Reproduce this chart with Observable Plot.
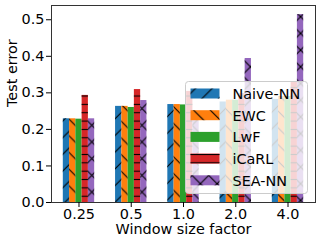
<!DOCTYPE html>
<html>
<head>
<meta charset="utf-8">
<script src="https://cdn.jsdelivr.net/npm/d3@7"></script>
<script src="https://cdn.jsdelivr.net/npm/@observablehq/plot@0.6"></script>
<style>
  html, body { margin: 0; padding: 0; background: #fff; }
</style>
</head>
<body>
<div id="chart"></div>
<script>
const factors = ["0.25", "0.5", "1.0", "2.0", "4.0"];
const methods = ["Naive-NN", "EWC", "LwF", "iCaRL", "SEA-NN"];
const naive = [0.229, 0.263, 0.268, 0.275, 0.282];
const ewc   = [0.229, 0.263, 0.268, 0.280, 0.290];
const lwf   = [0.228, 0.260, 0.267, 0.280, 0.290];
const icarl = [0.293, 0.309, 0.304, 0.298, 0.331];
const sea   = [0.229, 0.279, 0.250, 0.394, 0.514];
const yTicks = [0, 0.1, 0.2, 0.3, 0.4, 0.5];
const colors = ["#1f77b4", "#ff7f0e", "#2ca02c", "#d62728", "#9467bd"];
const hatches = ["fwd", "back", null, "horiz", "cross"];
const xLabel = ["Window size factor"];
const yLabel = ["Test error"];

const series = [naive, ewc, lwf, icarl, sea];
const barW = 0.12;
const rows = [];
series.forEach((vals, k) => vals.forEach((v, i) => rows.push({
  i, k, method: methods[k], value: v,
  x1: i + (k - 2.5) * barW, x2: i + (k - 1.5) * barW
})));

const svg = Plot.plot({
  width: 320, height: 244,
  marginLeft: 51, marginRight: 5, marginTop: 5, marginBottom: 42,
  style: {fontFamily: "DejaVu Sans", fontSize: "14.4px", color: "#000", background: "#fff"},
  x: {domain: [-0.526, 4.526]},
  y: {domain: [0, 0.539]},
  color: {type: "identity"},
  marks: [
    Plot.rectY(rows, {x1: "x1", x2: "x2", y1: 0, y2: "value", fill: d => colors[d.k]}),
    Plot.rectY(rows.filter(d => hatches[d.k]), {x1: "x1", x2: "x2", y1: 0, y2: "value", fill: d => `url(#hatch-${hatches[d.k]})`}),
    Plot.frame({stroke: "#333", strokeWidth: 1}),
    Plot.axisX({ticks: d3.range(factors.length), tickFormat: i => factors[i], tickSize: 5, tickPadding: 1.5, label: null, stroke: "#000"}),
    Plot.axisY({ticks: yTicks, tickFormat: d3.format(".1f"), tickSize: 5, tickPadding: 2, label: null, stroke: "#000"}),
    Plot.text(xLabel, {text: d => d, frameAnchor: "bottom", lineAnchor: "middle", dy: 26.5}),
    Plot.text(yLabel, {text: d => d, frameAnchor: "left", lineAnchor: "middle", rotate: -90, dx: -39, dy: 3})
  ]
});

const sel = d3.select(svg);
const defs = sel.insert("defs", ":first-child");
const P = 16.7;
function pattern(id, w, h, paths) {
  const p = defs.append("pattern").attr("id", id)
    .attr("patternUnits", "userSpaceOnUse").attr("width", w).attr("height", h);
  paths.forEach(d => p.append("path").attr("d", d)
    .attr("stroke", "#000").attr("stroke-width", 1.1).attr("fill", "none"));
}
pattern("hatch-fwd", P, P, [`M0,${P} L${P},0`, `M${-P/2},${P/2} L${P/2},${-P/2}`, `M${P/2},${1.5*P} L${1.5*P},${P/2}`]);
pattern("hatch-back", P, P, [`M0,0 L${P},${P}`, `M${-P/2},${P/2} L${P/2},${1.5*P}`, `M${P/2},${-P/2} L${1.5*P},${P/2}`]);
pattern("hatch-horiz", P/2, P/2, [`M-1,${P/4} L${P/2+1},${P/4}`]);
pattern("hatch-cross", P, P, [`M0,${P} L${P},0`, `M${-P/2},${P/2} L${P/2},${-P/2}`, `M${P/2},${1.5*P} L${1.5*P},${P/2}`,
                              `M0,0 L${P},${P}`, `M${-P/2},${P/2} L${P/2},${1.5*P}`, `M${P/2},${-P/2} L${1.5*P},${P/2}`]);

// legend
const lg = sel.append("g").attr("class", "legend").attr("text-anchor", "start");
lg.append("rect").attr("x", 185.5).attr("y", 81.5).attr("width", 122).attr("height", 112)
  .attr("rx", 3).attr("fill", "#fff").attr("fill-opacity", 0.8)
  .attr("stroke", "#ccc").attr("stroke-width", 1);
methods.forEach((m, k) => {
  const cy = 93.5 + k * 21.7;
  lg.append("rect").attr("x", 190.5).attr("y", cy - 5).attr("width", 29).attr("height", 10).attr("fill", colors[k]);
  if (hatches[k]) lg.append("rect").attr("x", 190.5).attr("y", cy - 5).attr("width", 29).attr("height", 10)
    .attr("fill", `url(#hatch-${hatches[k]})`);
  lg.append("text").attr("x", 232.5).attr("y", cy + 5.3).attr("fill", "#000")
    .attr("text-anchor", "start").text(m);
});

document.getElementById("chart").appendChild(svg);
</script>
</body>
</html>
